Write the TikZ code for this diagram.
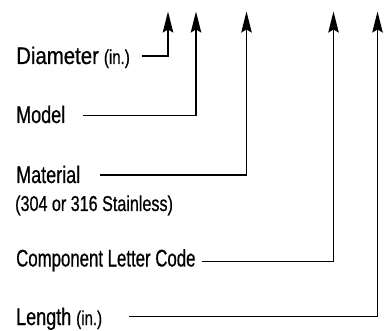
\documentclass[tikz,border=0pt]{standalone}
\usepackage{fontspec}
\setmainfont{Liberation Sans}[FakeStretch=0.75,FakeBold=0.6]
\newfontfamily\widerfont{Liberation Sans}[FakeStretch=0.85,FakeBold=0.6]
\newfontfamily\narrowerfont{Liberation Sans}[FakeStretch=0.70,FakeBold=0.6]
\usetikzlibrary{arrows.meta}
\begin{document}
\begin{tikzpicture}[x=1pt,y=-1pt,
  lbl/.style={anchor=base west,inner sep=0pt,font=\fontsize{24}{28}\selectfont},
  sub/.style={anchor=base west,inner sep=0pt,font=\fontsize{21.5}{25}\selectfont},
  lead/.style={line width=1.5pt,-{Stealth[length=21pt,width=10.5pt,inset=3pt]}}]
\useasboundingbox (0,0) rectangle (388,331);
% text
\node[lbl] (dia) at (16,64) {{\widerfont Diameter} {\fontsize{20}{23}\selectfont (in.)}};
\node[lbl] (mod) at (16,123) {Model};
\node[lbl] (mat) at (16,183) {Material};
\node[sub] (sta) at (15,211) {(304 or 316 Stainless)};
\node[lbl] (com) at (16,266.5) {\narrowerfont Component Letter Code};
\node[lbl] (len) at (16,325) {Length {\fontsize{20}{23}\selectfont (in.)}};
% arrow tips
\coordinate (t1) at (168,11.5);
\coordinate (t2) at (196,11.5);
\coordinate (t3) at (246.5,11.5);
\coordinate (t4) at (333.5,11.5);
\coordinate (t5) at (377.5,11.5);
% line starts
\coordinate (s1) at (142,56);
\coordinate (s2) at (83,115.5);
\coordinate (s3) at (100,175);
\coordinate (s4) at (201.5,261.5);
\coordinate (s5) at (128.5,316.5);
\draw[lead] (s1) -| (t1);
\draw[lead] (s2) -| (t2);
\draw[lead] (s3) -| (t3);
\draw[lead] (s4) -| (t4);
\draw[lead] (s5) -| (t5);
\end{tikzpicture}
\end{document}
